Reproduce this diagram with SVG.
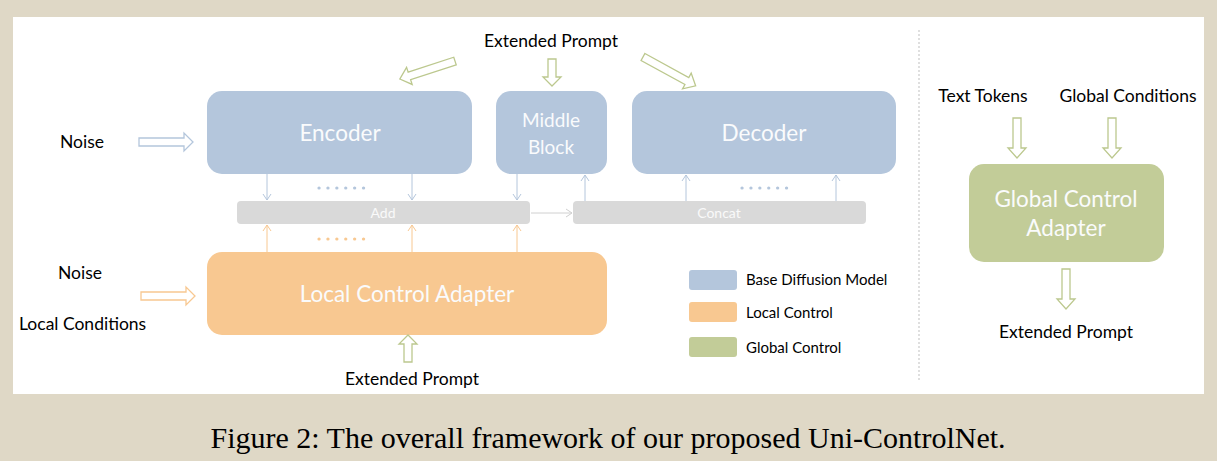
<svg xmlns="http://www.w3.org/2000/svg" width="1217" height="461" viewBox="0 0 1217 461">
<defs>
<style>
.lbl{font-family:Lato,"Open Sans",sans-serif;font-size:17.5px;fill:#000;}
.box{font-family:Lato,"Open Sans",sans-serif;font-size:22.5px;fill:#FAFBFC;text-anchor:middle;}
.bar{font-family:Lato,"Open Sans",sans-serif;font-size:14px;fill:#FAFAFA;text-anchor:middle;}
.leg{font-family:Lato,"Open Sans",sans-serif;font-size:15px;fill:#000;}
.blue{fill:#B4C6DC;}
.orange{fill:#F8C891;}
.green{fill:#C2CC98;}
.gray{fill:#D9D9D9;}
.hb{fill:#fff;stroke:#B4C6DC;stroke-width:1.3;}
.ho{fill:#fff;stroke:#F8C891;stroke-width:1.3;}
.hg{fill:#fff;stroke:#BCC88E;stroke-width:1.3;}
.tb{stroke:#B4C6DC;stroke-width:1;fill:none;}
.to{stroke:#F8C891;stroke-width:1;fill:none;}
.tg{stroke:#D0D0D0;stroke-width:1;fill:none;}
.dots{stroke-width:3.2;stroke-linecap:round;stroke-dasharray:0.1,8.8;fill:none;}
</style>
<marker id="mb" markerWidth="10" markerHeight="10" refX="8" refY="5" orient="auto" markerUnits="userSpaceOnUse"><path d="M2,1 L8,5 L2,9" fill="none" stroke="#B4C6DC" stroke-width="1"/></marker>
<marker id="mo" markerWidth="10" markerHeight="10" refX="8" refY="5" orient="auto" markerUnits="userSpaceOnUse"><path d="M2,1 L8,5 L2,9" fill="none" stroke="#F8C891" stroke-width="1"/></marker>
<marker id="mg" markerWidth="10" markerHeight="10" refX="8" refY="5" orient="auto" markerUnits="userSpaceOnUse"><path d="M2,1 L8,5 L2,9" fill="none" stroke="#D0D0D0" stroke-width="1"/></marker>
</defs>
<rect x="0" y="0" width="1217" height="461" fill="#DFD8C6"/>
<rect x="13" y="17" width="1191" height="377" fill="#fff"/>
<line x1="919" y1="30" x2="919" y2="380" stroke="#BFBFBF" stroke-width="1" stroke-dasharray="2,2"/>

<g id="encoder"><rect x="207" y="91" width="265" height="83" rx="15" class="blue"/><text x="340" y="141" class="box">Encoder</text></g>
<g id="middle"><rect x="496" y="91" width="111" height="83" rx="15" class="blue"/><text x="551" y="127" class="box" style="font-size:19px">Middle</text><text x="551" y="154" class="box" style="font-size:19px">Block</text></g>
<g id="decoder"><rect x="632" y="91" width="264" height="83" rx="15" class="blue"/><text x="764" y="141" class="box">Decoder</text></g>
<g id="add"><rect x="237" y="201" width="293" height="23" rx="4" class="gray"/><text x="383" y="218" class="bar">Add</text></g>
<g id="concat"><rect x="573" y="201" width="293" height="23" rx="4" class="gray"/><text x="719" y="218" class="bar">Concat</text></g>
<g id="local"><rect x="207" y="252" width="400" height="83" rx="15" class="orange"/><text x="407" y="302" class="box">Local Control Adapter</text></g>
<g id="global"><rect x="969" y="164" width="195" height="98" rx="15" class="green"/><text x="1066" y="207" class="box">Global Control</text><text x="1066" y="236" class="box">Adapter</text></g>

<g id="labels">
<text x="60" y="148" class="lbl">Noise</text>
<text x="58" y="279" class="lbl">Noise</text>
<text x="19" y="330" class="lbl">Local Conditions</text>
<text x="551" y="47" class="lbl" text-anchor="middle">Extended Prompt</text>
<text x="412" y="385" class="lbl" text-anchor="middle">Extended Prompt</text>
<text x="983" y="102" class="lbl" text-anchor="middle">Text Tokens</text>
<text x="1128" y="102" class="lbl" text-anchor="middle">Global Conditions</text>
<text x="1066" y="338" class="lbl" text-anchor="middle">Extended Prompt</text>
</g>

<g id="legend">
<rect x="689" y="270" width="48" height="20" rx="3" class="blue"/><text x="746" y="285" class="leg">Base Diffusion Model</text>
<rect x="689" y="302" width="48" height="20" rx="3" class="orange"/><text x="746" y="318" class="leg">Local Control</text>
<rect x="689" y="337" width="48" height="20" rx="3" class="green"/><text x="746" y="353" class="leg">Global Control</text>
</g>

<g id="connectors">
<path class="hb" d="M139,138 H184 V133 L193,142 L184,151 V146 H139 Z"/>
<path class="ho" d="M141,292 H186 V287 L195,296 L186,305 V300 H141 Z"/>
<path class="hg" d="M548,59 V77 H543 L552,86 L561,77 H556 V59 Z"/>
<path class="hg" transform="translate(455,61) rotate(161.9)" d="M0,-4 H48 V-9 L58,0 L48,9 V4 H0 Z"/>
<path class="hg" transform="translate(643,57) rotate(28.7)" d="M0,-4 H50 V-9 L60,0 L50,9 V4 H0 Z"/>
<path class="hg" d="M404,362 V344 H399 L408,335 L417,344 H412 V362 Z"/>
<path class="hg" d="M1013,118 V148 H1008 L1017,158 L1026,148 H1021 V118 Z"/>
<path class="hg" d="M1108,118 V148 H1103 L1112,158 L1121,148 H1116 V118 Z"/>
<path class="hg" d="M1062,269 V299 H1057 L1066,309 L1075,299 H1070 V269 Z"/>

<line class="tb" x1="267" y1="174" x2="267" y2="200" marker-end="url(#mb)"/>
<line class="tb" x1="412" y1="174" x2="412" y2="200" marker-end="url(#mb)"/>
<line class="tb" x1="517" y1="174" x2="517" y2="200" marker-end="url(#mb)"/>
<line class="tb" x1="585" y1="201" x2="585" y2="175" marker-end="url(#mb)"/>
<line class="tb" x1="686" y1="201" x2="686" y2="175" marker-end="url(#mb)"/>
<line class="tb" x1="836" y1="201" x2="836" y2="175" marker-end="url(#mb)"/>
<line class="to" x1="267" y1="252" x2="267" y2="225" marker-end="url(#mo)"/>
<line class="to" x1="412" y1="252" x2="412" y2="225" marker-end="url(#mo)"/>
<line class="to" x1="517" y1="252" x2="517" y2="225" marker-end="url(#mo)"/>
<line class="tg" x1="531" y1="213" x2="572" y2="213" marker-end="url(#mg)"/>
<line class="dots" x1="319" y1="188" x2="364" y2="188" stroke="#B4C6DC"/>
<line class="dots" x1="742" y1="188" x2="787" y2="188" stroke="#B4C6DC"/>
<line class="dots" x1="319" y1="239" x2="364" y2="239" stroke="#F8C891"/>
</g>

<text x="608" y="448" font-family="Liberation Serif,serif" font-size="30" text-anchor="middle" fill="#000">Figure 2: The overall framework of our proposed Uni-ControlNet.</text>
</svg>
